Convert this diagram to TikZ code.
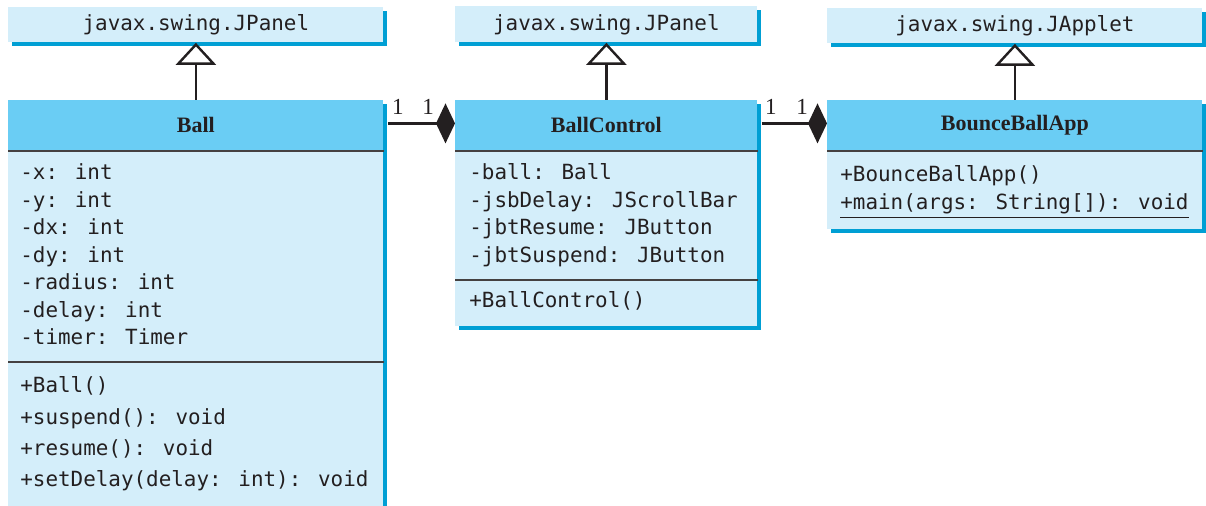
\documentclass[tikz,border=0pt]{standalone}
\usepackage{fontspec}
\setmainfont{Liberation Serif}
\newfontfamily\codefont{DejaVu Sans Mono}
\usetikzlibrary{arrows.meta,shadows}

\definecolor{headblue}{HTML}{6ACDF4}
\definecolor{bodyblue}{HTML}{D4EEFA}
\definecolor{shadeblue}{HTML}{009FD4}
\definecolor{ink}{HTML}{231F20}

\tikzset{
  classbox/.style={rectangle,fill=bodyblue,inner sep=0pt,anchor=north west,
    general shadow={fill=shadeblue,shadow xshift=2pt,shadow yshift=-2pt}},
  headbox/.style={rectangle,fill=headblue,inner sep=0pt,anchor=north west,
    minimum height=25pt,font=\fontsize{11}{12}\selectfont\bfseries},
  superbox/.style={classbox,minimum height=17.5pt,
    font=\codefont\fontsize{10.45}{12}\selectfont},
  member/.style={anchor=base west,inner sep=0pt,
    font=\codefont\fontsize{10.45}{12}\selectfont},
  mult/.style={inner sep=0pt,font=\fontsize{11.5}{12}\selectfont},
  sepline/.style={draw=ink!85,line width=.9pt},
  inherit/.style={-{Triangle[open,length=11pt,width=20pt,fill=white]},line width=1.2pt},
  compose/.style={-{Diamond[length=9.5pt,width=20pt]},line width=1.2pt}
}

\begin{document}
\begin{tikzpicture}[x=.5pt,y=-.5pt,color=ink,text=ink]
  \useasboundingbox (0,0) rectangle (1206,506);

  % superclasses
  \node[superbox,minimum width=187.5pt] (panela) at (8,7) {javax.swing.JPanel};
  \node[superbox,minimum width=151pt,minimum height=18pt] (panelb) at (455,6) {javax.swing.JPanel};
  \node[superbox,minimum width=187.5pt] (applet) at (827,8) {javax.swing.JApplet};

  % class Ball
  \node[classbox,minimum width=187.5pt,minimum height=204pt] (ball) at (8,100) {};
  \node[headbox,minimum width=187.5pt] (ballhead) at (8,100) {Ball};
  \draw[sepline] (ballhead.south west) -- (ballhead.south east);
  \draw[sepline] (ball.west |- 0,362) -- (ball.east |- 0,362);
  \foreach \t [count=\i] in {-x: int,-y: int,-dx: int,-dy: int,-radius: int,-delay: int,-timer: Timer}
    \node[member] (ballf\i) at (20,{180+27.5*(\i-1)}) {\t};
  \foreach \t [count=\i] in {+Ball(),+suspend(): void,+resume(): void,+setDelay(delay: int): void}
    \node[member] (ballm\i) at (20,{393+31.3*(\i-1)}) {\t};

  % class BallControl
  \node[classbox,minimum width=151pt,minimum height=113pt] (ctl) at (455,100) {};
  \node[headbox,minimum width=151pt] (ctlhead) at (455,100) {BallControl};
  \draw[sepline] (ctlhead.south west) -- (ctlhead.south east);
  \draw[sepline] (ctl.west |- 0,280) -- (ctl.east |- 0,280);
  \foreach \t [count=\i] in {-ball: Ball,-jsbDelay: JScrollBar,-jbtResume: JButton,-jbtSuspend: JButton}
    \node[member] (ctlf\i) at (469,{180+27.5*(\i-1)}) {\t};
  \node[member] (ctlm1) at (469,308) {+BallControl()};

  % class BounceBallApp
  \node[classbox,minimum width=187.5pt,minimum height=64.5pt] (app) at (827,100) {};
  \node[headbox,minimum width=187.5pt] (apphead) at (827,100) {BounceBallApp};
  \draw[sepline] (apphead.south west) -- (apphead.south east);
  \node[member] (appm1) at (840,182) {+BounceBallApp()};
  \node[member] (appm2) at (840,210) {\underline{+main(args: String[]): void}};

  % inheritance
  \draw[inherit] (ballhead) -- (panela);
  \draw[inherit] (ctlhead) -- (panelb);
  \draw[inherit] (apphead) -- (applet);

  % composition
  \draw[compose] ([xshift=2pt,yshift=1pt]ballhead.east) -- ([yshift=1pt]ctlhead.west)
    node[mult,pos=.15,above=4pt] (ballone) {1}
    node[mult,pos=.6,above=4pt] (ctlone) {1};
  \draw[compose] ([xshift=2pt,yshift=1pt]ctlhead.east) -- ([yshift=1pt]apphead.west)
    node[mult,pos=.14,above=4pt] (ctltwo) {1}
    node[mult,pos=.62,above=4pt] (apptwo) {1};
\end{tikzpicture}
\end{document}
